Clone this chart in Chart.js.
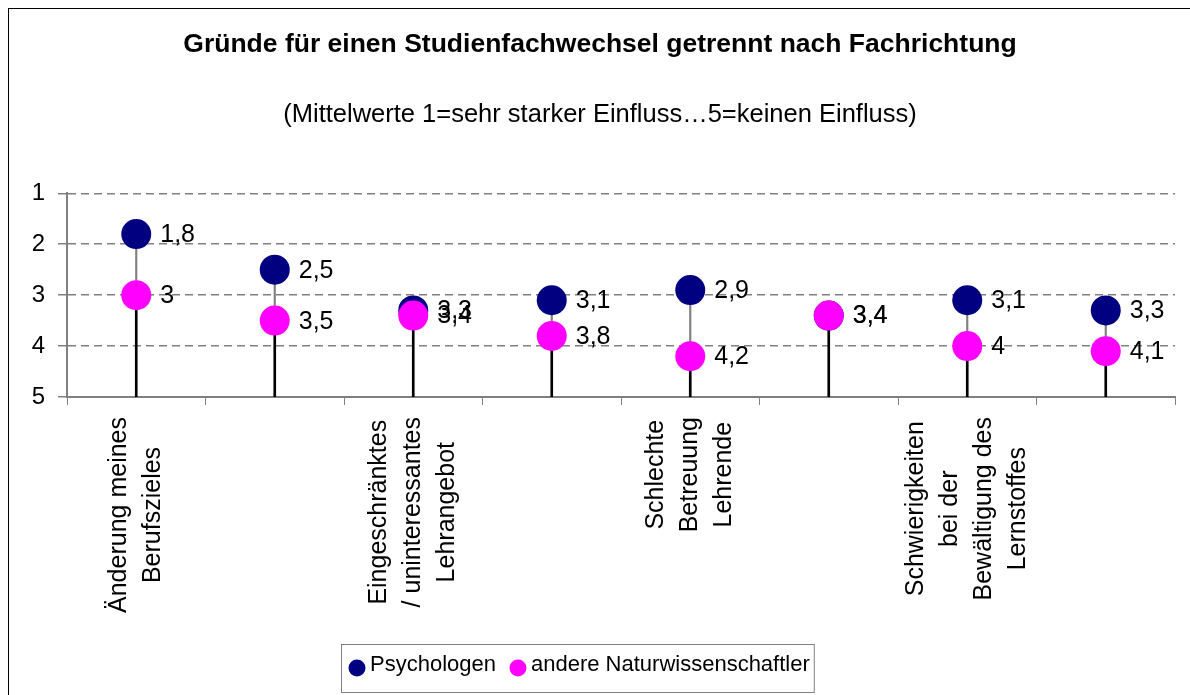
<!DOCTYPE html>
<html>
<head>
<meta charset="utf-8">
<script src="https://cdn.jsdelivr.net/npm/chart.js@4.4.1/dist/chart.umd.min.js"></script>
<style>
  html, body { margin: 0; padding: 0; background: #fff; overflow: hidden; }
  #wrap { position: relative; width: 1190px; height: 695px; }
  #frame { position: absolute; left: 8px; top: 8px; width: 1300px; height: 800px; border: 1px solid #000; }
  canvas { position: absolute; left: 0; top: 0; }
</style>
</head>
<body>
<div id="wrap">
  <div id="frame"></div>
  <canvas id="chart" width="1190" height="695"></canvas>
</div>
<script>
// only every other category label is shown in the original
const categories = [
  ["Änderung meines", "Berufszieles"],
  "",
  ["Eingeschränktes", "/ uninteressantes", "Lehrangebot"],
  "",
  ["Schlechte", "Betreuung", "Lehrende"],
  "",
  ["Schwierigkeiten", "bei der", "Bewältigung des", "Lernstoffes"],
  ""
];
const psychologen = [1.8, 2.5, 3.3, 3.1, 2.9, 3.4, 3.1, 3.3];
const andereNaturwiss = [3.0, 3.5, 3.4, 3.8, 4.2, 3.4, 4.0, 4.1];
const yMin = 1;
const yMax = 5;

const FONT = "'Liberation Sans', Arial, sans-serif";
const BLUE = "#000080";
const PINK = "#FF00FF";
const GRAY = "#808080";

function fmt(v) {
  return String(v).replace(".", ",");
}

// value labels to the right of each point
const valueLabels = {
  id: "valueLabels",
  afterDatasetsDraw(chart) {
    let ctx = chart.ctx;
    ctx.save();
    ctx.font = "25px " + FONT;
    ctx.fillStyle = "#000";
    ctx.textAlign = "left";
    ctx.textBaseline = "middle";
    [2, 3].forEach(di => {
      let meta = chart.getDatasetMeta(di);
      let data = chart.data.datasets[di].data;
      meta.data.forEach((pt, i) => {
        ctx.fillText(fmt(data[i]), pt.x + 24, pt.y + 1);
      });
    });
    ctx.restore();
  }
};

// rotated, centred multi-line category labels
const xLabels = {
  id: "xLabels",
  afterDraw(chart) {
    let ctx = chart.ctx;
    let xs = chart.scales.x;
    let top = chart.chartArea.bottom + 20;
    ctx.save();
    ctx.font = "25px " + FONT;
    ctx.fillStyle = "#000";
    ctx.textAlign = "center";
    ctx.textBaseline = "middle";
    chart.data.labels.forEach((lab, i) => {
      if (!lab) return;
      let lines = Array.isArray(lab) ? lab : [lab];
      let w = Math.max(...lines.map(l => ctx.measureText(l).width));
      ctx.save();
      ctx.translate(xs.getPixelForValue(i), top + w / 2);
      ctx.rotate(-Math.PI / 2);
      lines.forEach((l, j) => {
        ctx.fillText(l, 0, (j - (lines.length - 1) / 2) * 34);
      });
      ctx.restore();
    });
    ctx.restore();
  }
};

// boxed legend like the original
const boxLegend = {
  id: "boxLegend",
  afterDraw(chart) {
    let ctx = chart.ctx;
    let items = [2, 3].map(di => chart.data.datasets[di]);
    ctx.save();
    ctx.font = "22px " + FONT;
    let x = 357;
    let y = 667;
    let left = x - 16;
    items.forEach((ds, k) => {
      ctx.fillStyle = ds.backgroundColor;
      ctx.beginPath();
      ctx.arc(x, y + 1, 8.5, 0, Math.PI * 2);
      ctx.fill();
      ctx.fillStyle = "#000";
      ctx.textAlign = "left";
      ctx.textBaseline = "middle";
      ctx.fillText(ds.label, x + 13, y - 2);
      x += 13 + ctx.measureText(ds.label).width + (k < items.length - 1 ? 22 : 0);
    });
    let right = x + 4;
    ctx.strokeStyle = GRAY;
    ctx.lineWidth = 1;
    ctx.strokeRect(left + 0.5, 644.5, right - left, 48);
    ctx.restore();
  }
};

new Chart(document.getElementById("chart").getContext("2d"), {
  type: "bar",
  data: {
    labels: categories,
    datasets: [
      {
        type: "bar",
        label: "hoch-tief",
        data: psychologen.map((v, i) => [v, andereNaturwiss[i]]),
        backgroundColor: GRAY,
        barThickness: 1.5,
        grouped: false,
        order: 3
      },
      {
        type: "bar",
        label: "Lot",
        data: psychologen.map((v, i) => [Math.max(v, andereNaturwiss[i]), yMax]),
        backgroundColor: "#000",
        barThickness: 2,
        grouped: false,
        order: 2
      },
      {
        type: "line",
        label: "Psychologen",
        data: psychologen,
        showLine: false,
        backgroundColor: BLUE,
        borderColor: BLUE,
        pointRadius: 15,
        pointBorderWidth: 0,
        order: 1
      },
      {
        type: "line",
        label: "andere Naturwissenschaftler",
        data: andereNaturwiss,
        showLine: false,
        backgroundColor: PINK,
        borderColor: PINK,
        pointRadius: 15,
        pointBorderWidth: 0,
        order: 0
      }
    ]
  },
  options: {
    responsive: false,
    animation: false,
    events: [],
    layout: { padding: { left: 24, right: 14, top: 0, bottom: 0 } },
    plugins: {
      legend: { display: false },
      tooltip: { enabled: false },
      title: {
        display: true,
        text: "Gründe für einen Studienfachwechsel getrennt nach Fachrichtung",
        color: "#000",
        font: { family: FONT, size: 26.5, weight: "bold", lineHeight: 1.2 },
        padding: { top: 29, bottom: 0 }
      },
      subtitle: {
        display: true,
        text: "(Mittelwerte 1=sehr starker Einfluss…5=keinen Einfluss)",
        color: "#000",
        font: { family: FONT, size: 25.5, lineHeight: 1.2 },
        padding: { top: 39.2, bottom: 62.7 }
      }
    },
    scales: {
      x: {
        afterFit: s => { s.height = 298; },
        grid: {
          display: true,
          drawOnChartArea: false,
          drawTicks: true,
          tickLength: 8,
          color: GRAY,
          offset: true
        },
        border: { color: GRAY, width: 2 },
        ticks: { display: false }
      },
      y: {
        min: yMin,
        max: yMax,
        reverse: true,
        afterFit: s => { s.width = 43; },
        ticks: {
          stepSize: 1,
          color: "#000",
          padding: 13,
          font: { family: FONT, size: 24 }
        },
        grid: {
          color: c => (c.tick && c.tick.value === yMax ? "rgba(0,0,0,0)" : GRAY),
          tickColor: GRAY,
          lineWidth: 1.5,
          tickLength: 9,
          tickBorderDash: [8, 5]
        },
        border: { color: GRAY, width: 2, dash: [8, 5] }
      }
    }
  },
  plugins: [valueLabels, xLabels, boxLegend]
});
</script>
</body>
</html>
